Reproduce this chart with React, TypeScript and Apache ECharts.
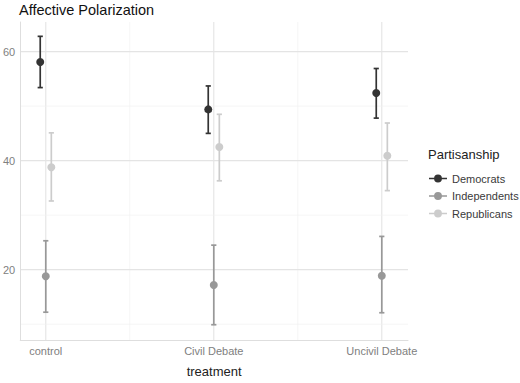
import React, { useEffect, useRef } from "react";
import * as echarts from "echarts";

const categories = ["control", "Civil Debate", "Uncivil Debate"];
const parties = ["Democrats", "Independents", "Republicans"];
const partyColors = ["#333333", "#989898", "#cccccc"];
const dodgeOffsets = [-0.033, 0, 0.033];

const demMean = [58.1, 49.4, 52.4];
const demLow = [53.4, 45.0, 47.8];
const demHigh = [62.8, 53.7, 56.9];

const indMean = [18.8, 17.2, 18.9];
const indLow = [12.2, 9.9, 12.1];
const indHigh = [25.3, 24.5, 26.1];

const repMean = [38.8, 42.5, 40.9];
const repLow = [32.6, 36.3, 34.5];
const repHigh = [45.1, 48.5, 46.9];

const yMajorTicks = [20, 40, 60];
const yMinorTicks = [10, 30, 50];
const xMajorTicks = [1, 2, 3];
const xMinorTicks = [1.5, 2.5];

const Y_MIN = 7.1;
const Y_MAX = 65.43;
const X_MIN = 0.848;
const X_MAX = 3.156;

const means = [demMean, indMean, repMean];
const lows = [demLow, indLow, repLow];
const highs = [demHigh, indHigh, repHigh];

export default function App() {
  const ref = useRef<HTMLDivElement>(null);

  useEffect(() => {
    document.body.style.margin = "0";
    if (!ref.current) return;
    const chart = echarts.init(ref.current, null, { renderer: "svg" });

    const legendIcon =
      "path://M0,4.3H16V5.7H0Z M4.5,5A3.5,3.5 0 1 1 11.5,5A3.5,3.5 0 1 1 4.5,5Z";

    const gridSeries: any[] = [
      {
        type: "custom",
        name: "vgrid",
        silent: true,
        z: 0,
        data: [
          ...xMinorTicks.map((v) => [v, 0]),
          ...xMajorTicks.map((v) => [v, 1]),
        ],
        renderItem: (params: any, api: any) => {
          const cs = params.coordSys;
          const x = api.coord([api.value(0), Y_MIN])[0];
          const major = api.value(1) === 1;
          return {
            type: "line",
            shape: { x1: x, y1: cs.y, x2: x, y2: cs.y + cs.height },
            style: { stroke: major ? "#e4e4e4" : "#f0f0f0", lineWidth: major ? 1.1 : 0.7 },
          };
        },
      },
      {
        type: "custom",
        name: "hgrid",
        silent: true,
        z: 0,
        data: [
          ...yMinorTicks.map((v) => [v, 0]),
          ...yMajorTicks.map((v) => [v, 1]),
        ],
        renderItem: (params: any, api: any) => {
          const cs = params.coordSys;
          const y = api.coord([X_MIN, api.value(0)])[1];
          const major = api.value(1) === 1;
          return {
            type: "line",
            shape: { x1: cs.x, y1: y, x2: cs.x + cs.width, y2: y },
            style: { stroke: major ? "#e4e4e4" : "#f0f0f0", lineWidth: major ? 1.1 : 0.7 },
          };
        },
      },
    ];

    const errorSeries = parties.map((p, pi) => ({
      type: "custom",
      name: p,
      z: 2,
      itemStyle: { color: partyColors[pi] },
      data: categories.map((_, ci) => [ci + 1 + dodgeOffsets[pi], lows[pi][ci], highs[pi][ci]]),
      renderItem: (params: any, api: any) => {
        const lo = api.coord([api.value(0), api.value(1)]);
        const hi = api.coord([api.value(0), api.value(2)]);
        const cap = 2.6;
        const style = { stroke: partyColors[pi], lineWidth: 1.7 };
        return {
          type: "group",
          children: [
            { type: "line", shape: { x1: lo[0], y1: lo[1], x2: hi[0], y2: hi[1] }, style },
            { type: "line", shape: { x1: lo[0] - cap, y1: lo[1], x2: lo[0] + cap, y2: lo[1] }, style },
            { type: "line", shape: { x1: hi[0] - cap, y1: hi[1], x2: hi[0] + cap, y2: hi[1] }, style },
          ],
        };
      },
    }));

    const pointSeries = parties.map((p, pi) => ({
      type: "scatter",
      name: p,
      z: 3,
      symbol: "circle",
      symbolSize: 8,
      itemStyle: { color: partyColors[pi], opacity: 1 },
      data: categories.map((_, ci) => [ci + 1 + dodgeOffsets[pi], means[pi][ci]]),
    }));

    chart.setOption({
      animation: false,
      textStyle: { fontFamily: "Liberation Sans, Arial, sans-serif" },
      title: [
        {
          text: "Affective Polarization",
          left: 19,
          top: 2,
          padding: 0,
          textStyle: { fontSize: 14.5, fontWeight: "normal", color: "#111111" },
        },
        {
          text: "Partisanship",
          left: 428,
          top: 148,
          padding: 0,
          textStyle: { fontSize: 13, fontWeight: "normal", color: "#222222" },
        },
      ],
      legend: {
        orient: "vertical",
        left: 429,
        top: 173,
        padding: 0,
        itemWidth: 18,
        itemHeight: 9,
        itemGap: 6.5,
        selectedMode: false,
        textStyle: { fontSize: 11, color: "#3a3a3a", padding: [0, 0, 0, 0] },
        data: parties.map((p) => ({ name: p, icon: legendIcon })),
      },
      grid: { left: 19, right: 112, top: 22, bottom: 31, containLabel: false },
      xAxis: {
        type: "value",
        min: X_MIN,
        max: X_MAX,
        name: "treatment",
        nameLocation: "middle",
        nameGap: 25,
        nameTextStyle: { fontSize: 13, color: "#222222" },
        axisLine: { show: true, lineStyle: { color: "#dedede", width: 1 } },
        axisTick: { show: false },
        splitLine: { show: false },
        axisLabel: {
          customValues: xMajorTicks,
          formatter: (v: number) => categories[Math.round(v) - 1] ?? "",
          fontSize: 11,
          color: "#808080",
          margin: 5,
        },
      },
      yAxis: {
        type: "value",
        min: Y_MIN,
        max: Y_MAX,
        axisLine: { show: true, lineStyle: { color: "#dedede", width: 1 } },
        axisTick: { show: false },
        splitLine: { show: false },
        axisLabel: {
          customValues: yMajorTicks,
          fontSize: 11,
          color: "#808080",
          margin: 5,
        },
      },
      series: [...gridSeries, ...errorSeries, ...pointSeries],
    });

    return () => chart.dispose();
  }, []);

  return <div ref={ref} style={{ width: 520, height: 383 }} />;
}
